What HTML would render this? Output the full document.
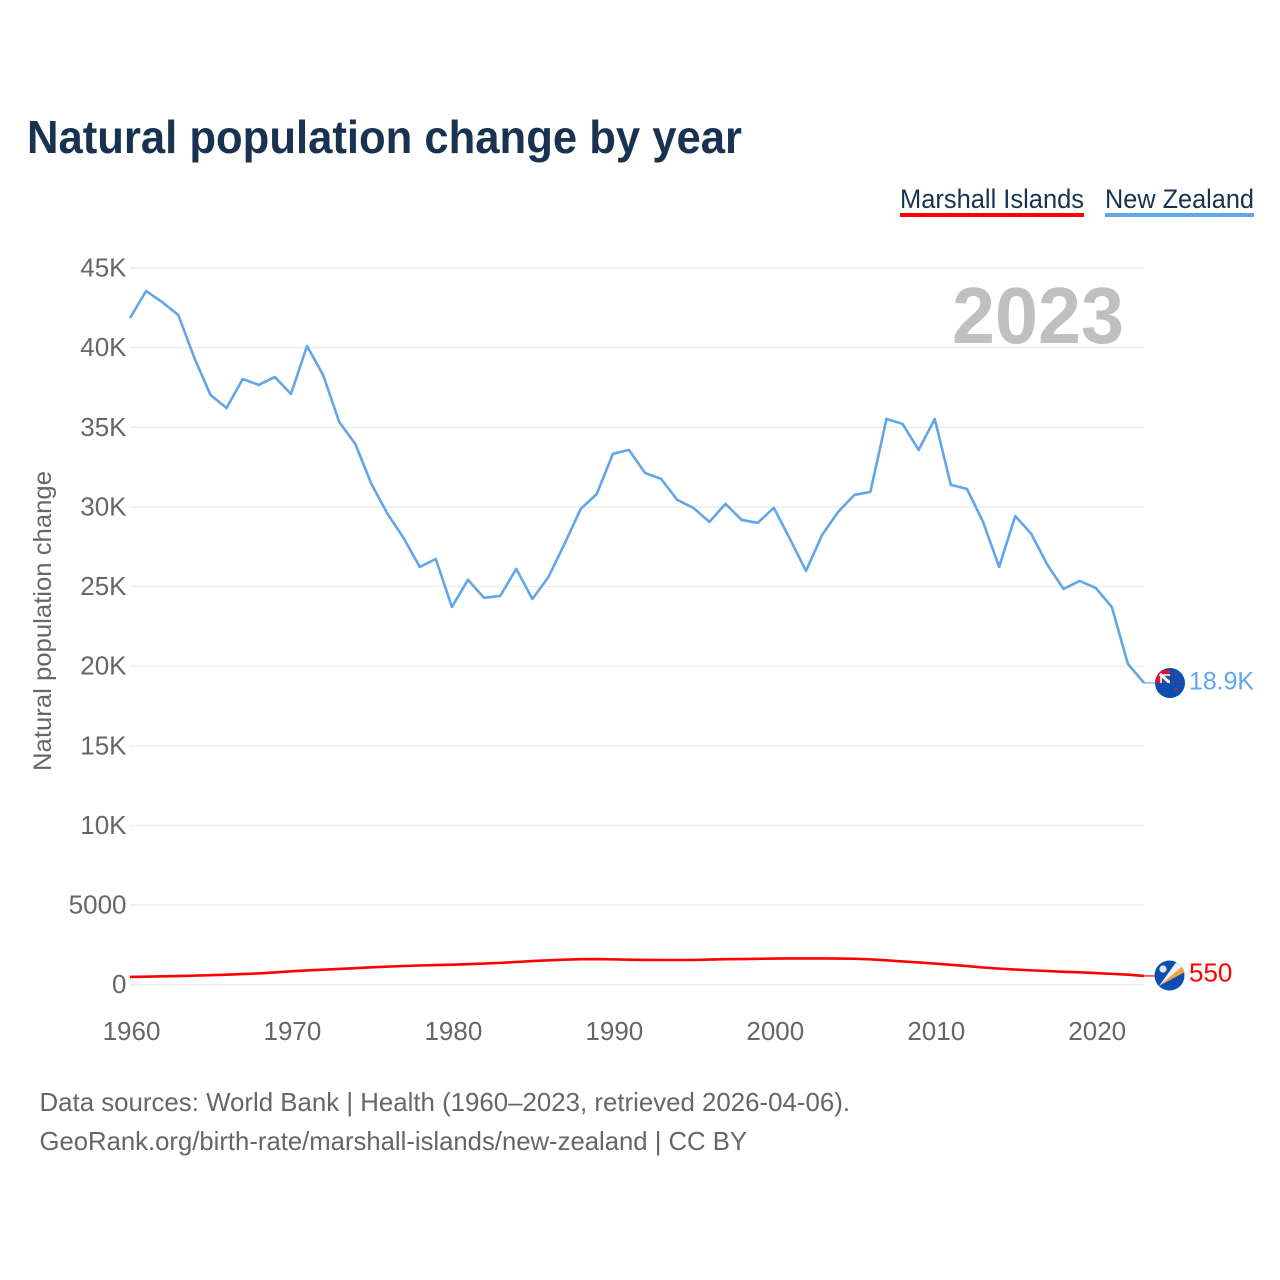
<!DOCTYPE html>
<html lang="en">
<head>
<meta charset="utf-8">
<title>Natural population change by year</title>
<style>
html,body{margin:0;padding:0;background:#fff;}
svg{display:block;font-family:"Liberation Sans",sans-serif;}
</style>
</head>
<body>
<svg id="chart" xmlns="http://www.w3.org/2000/svg" width="1280" height="1280" viewBox="0 0 1280 1280">
  <rect width="1280" height="1280" fill="#fff"/>
  <text x="27" y="153" font-size="46" font-weight="700" fill="#18324f" textLength="715" lengthAdjust="spacingAndGlyphs">Natural population change by year</text>

  <g>
    <g>
      <text x="900" y="208" font-size="27" fill="#18324f" textLength="184" lengthAdjust="spacingAndGlyphs">Marshall Islands</text>
      <rect x="900" y="213" width="184" height="4" fill="#ff0000"/>
    </g>
    <g>
      <text x="1105" y="208" font-size="27" fill="#18324f" textLength="149" lengthAdjust="spacingAndGlyphs">New Zealand</text>
      <rect x="1105" y="213" width="149" height="4" fill="#62a6ea"/>
    </g>
  </g>

  <g id="grid"></g>
  <g id="yticks"></g>
  <g id="xticks"></g>

  <text x="952" y="343" font-size="80" font-weight="700" fill="#c0c0c0" textLength="172" lengthAdjust="spacingAndGlyphs">2023</text>

  <text transform="translate(51 771) rotate(-90)" font-size="25" fill="#666" textLength="300" lengthAdjust="spacingAndGlyphs">Natural population change</text>

  <g id="series"></g>

  <defs>
    <clipPath id="clip-nz"><circle cx="1170" cy="683" r="15"/></clipPath>
    <clipPath id="clip-nz-canton"><rect x="1155" y="670" width="15" height="13"/></clipPath>
    <clipPath id="clip-mh"><circle cx="1169.5" cy="975.5" r="15"/></clipPath>
  </defs>

  <g id="flag-nz" clip-path="url(#clip-nz)">
    <rect x="1155" y="668" width="30" height="30" fill="#0a4fb0"/>
    <rect x="1155" y="670" width="15" height="13" fill="#e0142c"/>
    <g clip-path="url(#clip-nz-canton)">
      <rect x="1161" y="675" width="9" height="8" fill="#2a4f9a"/>
      <path d="M1160 674 L1170 683" stroke="#fff" stroke-width="3"/>
      <path d="M1161 675 L1161 683 M1160.5 675 L1170 675" stroke="#fff" stroke-width="1.6"/>
    </g>
    <circle cx="1176" cy="675" r="1.1" fill="#d8152f"/>
    <circle cx="1180" cy="680" r="1.1" fill="#d8152f"/>
    <circle cx="1173" cy="682" r="1.1" fill="#d8152f"/>
    <circle cx="1176" cy="689" r="1.4" fill="#d8152f"/>
  </g>

  <g id="flag-mh" clip-path="url(#clip-mh)">
    <rect x="1154" y="960" width="31" height="31" fill="#0a4fb0"/>
    <path d="M1159 986 L1183 966 L1185 972 Z" fill="#f6a33a"/>
    <path d="M1159 986 L1177 961 L1183 966 Z" fill="#f2f2f2"/>
    <circle cx="1163" cy="969" r="3.6" fill="#e4e8f2"/>
  </g>

  <g id="labels"></g>

  <g>
    <text x="39.5" y="1111" font-size="26" fill="#666" textLength="810.5" lengthAdjust="spacingAndGlyphs">Data sources: World Bank | Health (1960–2023, retrieved 2026-04-06).</text>
    <text x="39.5" y="1150" font-size="26" fill="#666" textLength="707.5" lengthAdjust="spacingAndGlyphs">GeoRank.org/birth-rate/marshall-islands/new-zealand | CC BY</text>
  </g>
</svg>
<script>
const years = [1960,1961,1962,1963,1964,1965,1966,1967,1968,1969,1970,1971,1972,1973,1974,1975,1976,1977,1978,1979,1980,1981,1982,1983,1984,1985,1986,1987,1988,1989,1990,1991,1992,1993,1994,1995,1996,1997,1998,1999,2000,2001,2002,2003,2004,2005,2006,2007,2008,2009,2010,2011,2012,2013,2014,2015,2016,2017,2018,2019,2020,2021,2022,2023];
const newZealand = [41860,43555,42860,42050,39350,37030,36210,38030,37660,38160,37090,40100,38280,35330,33950,31440,29560,28050,26230,26730,23720,25420,24290,24410,26110,24220,25600,27680,29870,30810,33330,33580,32130,31760,30440,29940,29060,30190,29180,29000,29940,27990,25980,28240,29690,30750,30940,35520,35210,33580,35520,31380,31130,29060,26230,29430,28300,26360,24850,25350,24910,23720,20140,18950];
const marshallIslands = [490,505,525,545,570,600,630,665,710,770,840,895,945,990,1040,1090,1135,1175,1205,1230,1255,1285,1325,1370,1425,1485,1530,1570,1600,1610,1590,1570,1555,1550,1550,1550,1580,1600,1610,1625,1640,1650,1650,1650,1640,1630,1590,1530,1460,1400,1330,1250,1170,1080,1010,950,900,860,810,780,730,680,630,550];
const yTickValues = [0,5000,10000,15000,20000,25000,30000,35000,40000,45000];
const yTickLabels = ["0","5000","10K","15K","20K","25K","30K","35K","40K","45K"];
const xTickValues = [1960,1970,1980,1990,2000,2010,2020];
const endLabelNZ = "18.9K";
const endLabelMH = "550";

const NS = 'http://www.w3.org/2000/svg';
function xScale(year){ return 130 + (year - 1960) * (1144 - 130) / (2023 - 1960); }
function yScale(value){ return 984.7 - value * (984.7 - 268) / 45000; }
function make(tag, attrs, parent, text){
  const el = document.createElementNS(NS, tag);
  for (const k in attrs) el.setAttribute(k, attrs[k]);
  if (text !== undefined) el.textContent = text;
  parent.appendChild(el);
  return el;
}
const grid = document.getElementById('grid');
const yticks = document.getElementById('yticks');
const xticks = document.getElementById('xticks');
const seriesGroup = document.getElementById('series');
const labels = document.getElementById('labels');

yTickValues.forEach(function(v, i){
  const line = make('line', {x1:130, x2:1144, y1:yScale(v), y2:yScale(v), stroke:'#ececec', 'stroke-width':1.4}, grid);
  
  
  const t = make('text', {x:126.5, y:yScale(v)+8.5, 'text-anchor':'end', 'font-size':26, fill:'#666'}, yticks, yTickLabels[i]);
  
  
});
xTickValues.forEach(function(v){
  const t = make('text', {x:xScale(v)+1.5, y:1040, 'text-anchor':'middle', 'font-size':26, fill:'#666'}, xticks, String(v));
  
  
});
function pointsFor(values){
  return values.map(function(v, i){ return xScale(years[i]).toFixed(2) + ',' + yScale(v).toFixed(2); }).join(' ');
}
const lineNZ = make('polyline', {points:pointsFor(newZealand), fill:'none', stroke:'#62a6ea', 'stroke-width':2.6, 'stroke-linejoin':'round'}, seriesGroup);


const lineMH = make('polyline', {points:pointsFor(marshallIslands), fill:'none', stroke:'#ff0000', 'stroke-width':2.6, 'stroke-linejoin':'round'}, seriesGroup);



const lastNZ = yScale(newZealand[newZealand.length-1]);
const lastMH = yScale(marshallIslands[marshallIslands.length-1]);
const leadNZ = make('line', {x1:1144, x2:1155, y1:lastNZ, y2:lastNZ, stroke:'#62a6ea', 'stroke-width':1.2}, seriesGroup);


const leadMH = make('line', {x1:1144, x2:1155, y1:lastMH, y2:lastMH, stroke:'#ff0000', 'stroke-width':1.2}, seriesGroup);



const labelNZ = make('text', {x:1189, y:689.5, 'font-size':25, fill:'#62a6ea', textLength:65, lengthAdjust:'spacingAndGlyphs'}, labels, endLabelNZ);


const labelMH = make('text', {x:1189, y:981.5, 'font-size':26, fill:'#ff0000'}, labels, endLabelMH);


</script>
</body>
</html>
